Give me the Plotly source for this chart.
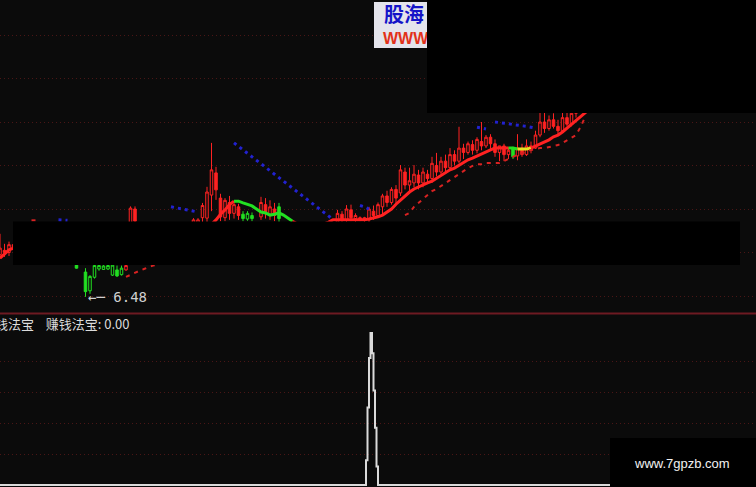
import plotly.graph_objects as go

W, H = 756, 487
BG = "#0b0b0b"
RED = "#ff2222"
GREEN = "#22e022"
YELLOW = "#e6e020"
BLUE = "#2222d0"
GRID = "#4a1616"

# ---------------- data ----------------
idx = list(range(132))
opens = [7.45, 7.55, 7.50, 7.68, 7.60, 7.65, 7.55, 7.62, 7.52, 7.58,
         7.48, 7.52, 7.42, 7.48, 7.40, 7.45, 7.35, 7.21, 7.30, 7.05,
         6.62, 6.93, 7.12, 7.11, 7.12, 6.98, 7.10, 6.99, 7.10, 7.50,
         8.50, 8.18, 7.95, 8.05, 7.90, 8.00, 7.85, 7.95, 7.88, 8.00,
         7.92, 8.02, 7.95, 8.05, 8.10, 8.30, 8.29, 8.82, 9.33, 8.75,
         8.30, 8.65, 8.40, 8.55, 8.38, 8.27, 8.35, 8.18, 8.32, 8.60,
         8.38, 8.50, 8.55, 8.15, 8.00, 7.92, 7.98, 7.90, 8.00, 7.95,
         8.05, 8.00, 8.10, 8.02, 8.10, 8.20, 8.38, 8.25, 8.48, 8.28,
         8.30, 8.26, 8.25, 8.45, 8.35, 8.55, 8.80, 8.65, 8.95, 8.87,
         9.35, 9.05, 9.10, 9.28, 9.10, 9.30, 9.20, 9.50, 9.35, 9.60,
         9.45, 9.75, 9.60, 9.90, 9.80, 9.98, 9.85, 10.05, 9.95, 10.15,
         10.00, 9.80, 9.95, 9.75, 9.90, 9.72, 9.90, 9.75, 9.95, 9.90,
         10.20, 10.50, 10.35, 10.55, 10.40, 10.30, 10.60, 10.45, 10.70, 10.85,
         11.00, 11.10]
highs = [7.93, 7.70, 7.75, 7.80, 7.72, 7.78, 7.70, 7.75, 7.65, 7.68,
         7.60, 7.62, 7.55, 7.58, 7.52, 7.55, 7.45, 7.22, 7.40, 7.14,
         6.98, 7.22, 7.21, 7.21, 7.22, 7.22, 7.20, 7.20, 7.24, 8.56,
         8.56, 8.18, 8.10, 8.15, 8.05, 8.12, 8.00, 8.10, 8.05, 8.15,
         8.08, 8.16, 8.12, 8.29, 8.29, 8.64, 9.01, 10.02, 9.47, 8.85,
         8.75, 8.80, 8.68, 8.62, 8.45, 8.45, 8.42, 8.19, 8.78, 8.75,
         8.70, 8.64, 8.64, 8.18, 8.10, 8.05, 8.12, 8.05, 8.15, 8.10,
         8.18, 8.15, 8.18, 8.16, 8.18, 8.48, 8.45, 8.59, 8.60, 8.40,
         8.33, 8.32, 8.55, 8.58, 8.65, 8.85, 8.92, 9.00, 9.05, 9.51,
         9.45, 9.45, 9.51, 9.40, 9.45, 9.40, 9.70, 9.79, 9.70, 9.75,
         9.90, 9.85, 10.39, 10.00, 10.05, 10.08, 10.15, 10.50, 10.20, 10.22,
         10.10, 9.95, 10.00, 9.92, 9.93, 10.22, 10.00, 10.10, 10.05, 10.30,
         10.73, 10.73, 10.65, 10.70, 10.55, 10.75, 10.75, 10.80, 10.95, 11.10,
         11.25, 11.30]
lows = [7.35, 7.40, 7.42, 7.55, 7.50, 7.52, 7.45, 7.50, 7.42, 7.45,
        7.38, 7.40, 7.35, 7.36, 7.30, 7.32, 7.28, 7.13, 7.23, 6.48,
        6.55, 6.90, 7.08, 7.10, 7.10, 6.96, 6.94, 6.97, 7.08, 7.40,
        8.15, 7.90, 7.80, 7.85, 7.75, 7.82, 7.70, 7.80, 7.75, 7.85,
        7.80, 7.90, 7.85, 7.95, 8.00, 8.20, 8.20, 8.45, 8.71, 8.22,
        8.22, 8.25, 8.28, 8.25, 8.22, 8.23, 8.22, 8.00, 8.25, 8.28,
        8.25, 8.22, 8.20, 7.95, 7.85, 7.80, 7.85, 7.78, 7.88, 7.85,
        7.92, 7.90, 7.95, 7.92, 7.95, 8.15, 8.18, 8.20, 8.22, 8.20,
        8.22, 8.20, 8.20, 8.25, 8.30, 8.35, 8.55, 8.60, 8.60, 8.80,
        8.95, 8.90, 9.00, 8.95, 9.00, 9.10, 9.10, 9.25, 9.30, 9.35,
        9.40, 9.50, 9.55, 9.65, 9.75, 9.75, 9.78, 9.85, 9.90, 9.85,
        9.70, 9.60, 9.60, 9.65, 9.65, 9.62, 9.70, 9.72, 9.78, 9.88,
        10.15, 10.25, 10.30, 10.35, 10.20, 10.25, 10.40, 10.40, 10.60, 10.75,
        10.90, 11.00]
closes = [7.60, 7.50, 7.68, 7.60, 7.65, 7.55, 7.62, 7.52, 7.58, 7.48,
          7.52, 7.42, 7.48, 7.40, 7.45, 7.35, 7.30, 7.14, 7.25, 6.60,
          6.95, 7.20, 7.20, 7.19, 7.20, 7.21, 6.96, 7.14, 7.20, 8.52,
          8.22, 7.95, 8.05, 7.90, 8.00, 7.85, 7.95, 7.88, 8.00, 7.92,
          8.02, 7.95, 8.08, 8.25, 8.25, 8.58, 8.89, 9.40, 8.94, 8.32,
          8.70, 8.40, 8.60, 8.35, 8.28, 8.40, 8.28, 8.10, 8.65, 8.40,
          8.55, 8.35, 8.28, 8.00, 7.92, 7.98, 7.90, 8.00, 7.95, 8.05,
          8.00, 8.10, 8.02, 8.12, 8.15, 8.40, 8.25, 8.50, 8.30, 8.35,
          8.26, 8.30, 8.50, 8.35, 8.60, 8.80, 8.65, 8.95, 8.75, 9.40,
          9.05, 9.15, 9.30, 9.10, 9.35, 9.20, 9.55, 9.35, 9.60, 9.45,
          9.75, 9.60, 9.90, 9.80, 10.00, 9.85, 10.10, 9.95, 10.15, 10.00,
          9.80, 9.95, 9.75, 9.85, 9.70, 9.90, 9.75, 9.95, 9.85, 10.20,
          10.50, 10.35, 10.55, 10.40, 10.30, 10.60, 10.45, 10.70, 10.85, 11.00,
          11.10, 11.20]
candle_color = (["r"] * 15 + ["g"] * 13 + ["r"] * 26 + ["g"] * 4 + ["r"] * 4
                + ["g"] * 6 + ["r"] * 46 + ["g"] + ["r"] * 17)

ma = [7.37, 7.47, 7.56, 7.60, 7.62, 7.62, 7.60, 7.58, 7.56, 7.54,
      7.52, 7.50, 7.48, 7.46, 7.44, 7.42, 7.40, 7.38, 7.36, 7.34,
      7.32, 7.30, 7.29, 7.28, 7.27, 7.27, 7.27, 7.28, 7.30, 7.35,
      7.42, 7.50, 7.56, 7.62, 7.67, 7.72, 7.76, 7.80, 7.83, 7.86,
      7.88, 7.90, 7.92, 7.94, 7.97, 8.02, 8.08, 8.15, 8.25, 8.38,
      8.48, 8.60, 8.68, 8.68, 8.64, 8.61, 8.57, 8.50, 8.43, 8.41,
      8.36, 8.38, 8.41, 8.36, 8.29, 8.22, 8.16, 8.13, 8.12, 8.12,
      8.13, 8.14, 8.16, 8.20, 8.25, 8.25, 8.25, 8.25, 8.25, 8.25,
      8.25, 8.25, 8.27, 8.29, 8.32, 8.36, 8.43, 8.50, 8.61, 8.71,
      8.80, 8.89, 8.96, 9.01, 9.05, 9.10, 9.14, 9.21, 9.26, 9.33,
      9.40, 9.44, 9.51, 9.58, 9.63, 9.67, 9.72, 9.76, 9.81, 9.86,
      9.90, 9.90, 9.90, 9.90, 9.90, 9.88, 9.88, 9.88, 9.90, 9.95,
      9.99, 10.04, 10.09, 10.16, 10.20, 10.27, 10.36, 10.45, 10.55, 10.64,
      10.71, 10.78]
ma_color = (["r"] * 52 + ["g"] * 13 + ["r"] * 48 + ["g"] * 2 + ["y"] * 3
            + ["r"] * 14)

resist_x = [13, 14, 15, None,
            38, 39, 40, 41, 42, 43, 44, None,
            52, 53, 54, 55, 56, 57, 58, 59, 60, 61, 62, 63, 64, 65, 66, 67,
            68, 69, 70, 71, 72, 73, 74, None,
            80, 81, 82, None,
            106, 107, 108, None,
            110, 111, 112, 113, 114, 115, 116, 117, 118, 119]
resist_y = [8.25, 8.25, 8.24, None,
            8.55, 8.53, 8.52, 8.50, 8.48, 8.45, 8.43, None,
            10.02, 9.94, 9.86, 9.78, 9.70, 9.62, 9.54, 9.46, 9.38, 9.30,
            9.22, 9.14, 9.06, 8.98, 8.90, 8.82, 8.74, 8.66, 8.58, 8.50,
            8.42, 8.34, 8.26, None,
            8.58, 8.55, 8.50, None,
            10.38, 10.36, 10.34, None,
            10.50, 10.49, 10.47, 10.46, 10.44, 10.43, 10.41, 10.40, 10.38, 10.36]

support_x = [7, 8, 9, None,
             28, 29, 30, 31, 32, 33, 34, 35, None,
             90, 91, 92, 93, 94, 95, 96, 97, 98, 99, 100, 101, 102, 103, 104,
             105, 106, 107, 108, 109, 110, 111, 112, 113, 114, 115, 116, 117,
             118, 119, 120, 121, 122, 123, 124, 125, 126, 127, 128, 129, 130]
support_y = [8.24, 8.24, 8.24, None,
             6.94, 6.99, 7.03, 7.08, 7.12, 7.16, 7.20, 7.22, None,
             8.36, 8.41, 8.55, 8.64, 8.73, 8.84, 8.91, 8.96, 9.03, 9.10, 9.17,
             9.24, 9.30, 9.37, 9.44, 9.49, 9.53, 9.53, 9.56, 9.56, 9.56, 9.56,
             9.60, 9.65, 9.70, 9.75, 9.78, 9.82, 9.86, 9.88, 9.90, 9.90, 9.92,
             9.94, 9.97, 10.02, 10.08, 10.14, 10.20, 10.38, 10.61]

low_label = "6.48"
low_index = 19
low_value = 6.48

signal_x = [0, 244, 245, 246, 247, 248, 249, 250, 251, 252, 253, 504]
signal_y = [0, 0, 16, 50, 82, 98, 85, 61, 37, 12, 0, 0]
signal_name = "赚钱法宝"
signal_last = 0.00

price_grid = [6.5, 7.5, 8.5, 9.5, 10.5, 11.5, 12.5]
signal_grid = [20, 40, 60, 80]

# ---------------- figure ----------------
SPLIT = (H - 313.5) / H


def px_x(p):
    return p / W


def px_y(p):
    return 1 - p / H


fig = go.Figure()

for col, lc in [("r", RED), ("g", GREEN)]:
    sel = [k for k, c in enumerate(candle_color) if c == col]
    fig.add_trace(go.Candlestick(
        x=[idx[k] for k in sel],
        open=[opens[k] for k in sel],
        high=[highs[k] for k in sel],
        low=[lows[k] for k in sel],
        close=[closes[k] for k in sel],
        increasing=dict(line=dict(color=lc, width=1), fillcolor=BG),
        decreasing=dict(line=dict(color=lc, width=1), fillcolor=lc),
        whiskerwidth=0, showlegend=False, hoverinfo="skip",
        xaxis="x", yaxis="y"))

# moving line, coloured by segment
cmap = {"r": RED, "g": GREEN, "y": YELLOW}
n = len(ma)
start = 0
for k in range(1, n + 1):
    if k == n or ma_color[k] != ma_color[start]:
        end = min(k, n - 1)
        fig.add_trace(go.Scatter(
            x=idx[start:end + 1], y=ma[start:end + 1], mode="lines",
            line=dict(color=cmap[ma_color[start]], width=3),
            showlegend=False, hoverinfo="skip", xaxis="x", yaxis="y"))
        start = k

fig.add_trace(go.Scatter(x=resist_x, y=resist_y, mode="lines",
                         line=dict(color=BLUE, width=3, dash="3px,4px"),
                         showlegend=False, hoverinfo="skip",
                         xaxis="x", yaxis="y"))
fig.add_trace(go.Scatter(x=support_x, y=support_y, mode="lines",
                         line=dict(color="#d82222", width=2, dash="4px,5px"),
                         showlegend=False, hoverinfo="skip",
                         xaxis="x", yaxis="y"))

fig.add_trace(go.Scatter(x=signal_x, y=signal_y, mode="lines",
                         line=dict(color="#dadada", width=2, shape="vh"),
                         showlegend=False, hoverinfo="skip",
                         xaxis="x2", yaxis="y2"))

axis_off = dict(showticklabels=False, zeroline=False, showline=False,
                fixedrange=True, ticks="")

fig.update_layout(
    width=W, height=H,
    margin=dict(l=0, r=0, t=0, b=0),
    paper_bgcolor=BG, plot_bgcolor=BG,
    boxgap=0.2,
    xaxis=dict(range=[0, 168], domain=[0, 1], anchor="y", showgrid=False,
               rangeslider=dict(visible=False), **axis_off),
    yaxis=dict(range=[6.5 - 17.5 / 43.5, 6.5 + 296 / 43.5],
               domain=[SPLIT, 1], anchor="x",
               tickvals=price_grid, showgrid=True, gridcolor=GRID,
               griddash="1px,3px", gridwidth=1, **axis_off),
    xaxis2=dict(range=[0, 504], domain=[0, 1], anchor="y2", showgrid=False,
                **axis_off),
    yaxis2=dict(range=[-2 / 1.55, (485 - 313.5) / 1.55],
                domain=[0, SPLIT], anchor="x2",
                tickvals=signal_grid, showgrid=True, gridcolor=GRID,
                griddash="1px,3px", gridwidth=1, **axis_off),
)

shapes = [
    # panel separator
    dict(type="line", xref="paper", yref="paper", x0=0, x1=1,
         y0=SPLIT, y1=SPLIT, line=dict(color="#6e1a22", width=2),
         layer="above"),
    # redaction band across upper panel
    dict(type="rect", xref="paper", yref="paper",
         x0=px_x(13), x1=px_x(740), y0=px_y(265), y1=px_y(221.5),
         fillcolor="#000000", line=dict(width=0), layer="above"),
    # watermark box bottom right
    dict(type="rect", xref="paper", yref="paper",
         x0=px_x(610), x1=1, y0=0, y1=px_y(438),
         fillcolor="#000000", line=dict(width=0), layer="above"),
    # logo plate
    dict(type="rect", xref="paper", yref="paper",
         x0=px_x(374), x1=px_x(430), y0=px_y(48), y1=px_y(2),
         fillcolor="#e4e4ec", line=dict(width=0), layer="above"),
]
fig.update_layout(shapes=shapes)

ann = [
    dict(text="<b>股海</b>", xref="paper", yref="paper",
         x=px_x(382), y=px_y(14), xanchor="left", yanchor="middle",
         showarrow=False,
         font=dict(family="Noto Sans CJK SC", size=20, color="#1414c8")),
    dict(text="<b>WWW</b>", xref="paper", yref="paper",
         x=px_x(381), y=px_y(38), xanchor="left", yanchor="middle",
         showarrow=False,
         font=dict(family="Liberation Sans", size=16, color="#e2321a")),
    # redaction box top right (drawn after the logo text so it covers it)
    dict(text=" ", xref="paper", yref="paper", x=px_x(427), y=1,
         xanchor="left", yanchor="top", width=W - 427, height=113,
         bgcolor="#000000", borderpad=0, borderwidth=0, showarrow=False,
         font=dict(size=4)),
    dict(text=("%s\u00a0\u00a0\u00a0\u00a0%s: %.2f" % (signal_name, signal_name,
                                                     signal_last)),
         xref="paper", yref="paper", x=-20 / W, y=px_y(323),
         xanchor="left", yanchor="middle", showarrow=False,
         font=dict(family="Noto Sans CJK SC", size=13, color="#dcdcdc")),
    dict(text="←─ " + low_label, xref="x", yref="y", x=low_index,
         y=low_value, xanchor="left", yanchor="middle", showarrow=False,
         font=dict(family="DejaVu Sans Mono", size=14, color="#d0d0d0")),
    dict(text="www.7gpzb.com", xref="paper", yref="paper",
         x=px_x(682), y=px_y(463), xanchor="center", yanchor="middle",
         showarrow=False,
         font=dict(family="Liberation Sans", size=13, color="#f2f2f2")),
]
fig.update_layout(annotations=ann)

fig.write_html("out.html", config={"displayModeBar": False},
               post_script="document.body.style.margin='0px';"
                           "document.body.style.overflow='hidden';")
